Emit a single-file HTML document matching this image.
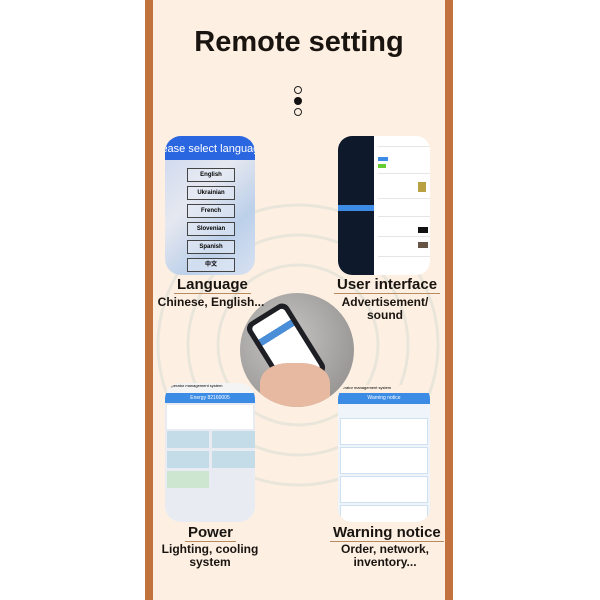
<!DOCTYPE html>
<html><head><style>
body{margin:0;width:600px;height:600px;background:#fff;position:relative;overflow:hidden;font-family:"Liberation Sans","Noto Sans CJK SC",sans-serif}
.a{position:absolute}
.t{position:absolute;text-align:center;color:#1a1410;font-weight:bold;white-space:nowrap}
.h{font-size:15px;border-bottom:1px solid #b88a60;padding:0 3px}
.s{font-size:12px;line-height:13px}
.btn{position:absolute;left:22px;width:46px;height:12px;border:1px solid #444;font-size:6px;font-weight:bold;text-align:center;line-height:12px;background:rgba(230,235,245,.5)}
.r{position:absolute;left:40px;width:52px;height:1px;background:#e6e6e6}
</style></head><body>
<div class="a" style="left:145px;top:0;width:308px;height:600px;background:#c2733d"></div>
<div class="a" style="left:153px;top:0;width:292px;height:600px;background:#fdf0e2"></div>
<svg class="a" style="left:153px;top:0" width="292" height="600">
<g fill="none" stroke="#d6dcd4" stroke-width="3" opacity=".5">
<circle cx="145" cy="345" r="80"/><circle cx="145" cy="345" r="110"/><circle cx="145" cy="345" r="140"/></g>
</svg>
<div class="t" style="left:153px;width:292px;top:26px;font-size:29px">Remote setting</div>
<div class="a" style="left:294px;top:86px;width:6px;height:6px;border:1px solid #222;border-radius:50%"></div>
<div class="a" style="left:294px;top:97px;width:8px;height:8px;background:#111;border-radius:50%"></div>
<div class="a" style="left:294px;top:108px;width:6px;height:6px;border:1px solid #222;border-radius:50%"></div>

<div class="a" style="left:165px;top:136px;width:90px;height:139px;border-radius:16px;overflow:hidden;background:linear-gradient(135deg,#c9d6ee,#e6e8f0 40%,#bcd0ea 70%,#d8e2f2)">
<div style="height:24px;background:#2a66e0;color:#fff;font-size:11px;line-height:26px;white-space:nowrap;margin-left:-6px">lease select language</div>
<div class="btn" style="top:32px">English</div>
<div class="btn" style="top:50px">Ukrainian</div>
<div class="btn" style="top:68px">French</div>
<div class="btn" style="top:86px">Slovenian</div>
<div class="btn" style="top:104px">Spanish</div>
<div class="btn" style="top:122px">中文</div>
</div>
<div class="a" style="left:338px;top:136px;width:92px;height:139px;border-radius:14px;overflow:hidden;background:#fff">
<div class="a" style="left:0;top:0;width:36px;height:139px;background:#0e1a2c"></div>
<div class="a" style="left:0;top:69px;width:36px;height:6px;background:#3c8ce6"></div>
<div class="a" style="left:40px;top:21px;width:10px;height:4px;background:#3c8ce6"></div>
<div class="a" style="left:40px;top:28px;width:8px;height:4px;background:#6c3"></div>
<div class="r" style="top:10px"></div><div class="r" style="top:37px"></div><div class="r" style="top:62px"></div><div class="r" style="top:80px"></div><div class="r" style="top:100px"></div><div class="r" style="top:120px"></div>
<div class="a" style="left:80px;top:46px;width:8px;height:10px;background:#b9a040"></div>
<div class="a" style="left:80px;top:91px;width:10px;height:6px;background:#111"></div>
<div class="a" style="left:80px;top:106px;width:10px;height:6px;background:#654"></div>
</div>
<div class="a" style="left:240px;top:293px;width:114px;height:114px;border-radius:50%;overflow:hidden;background:radial-gradient(circle at 40% 40%,#c8c6c4,#8a8886)">
<div class="a" style="left:22px;top:14px;width:48px;height:82px;background:#1d1f24;border-radius:8px;transform:rotate(-32deg)">
<div style="margin:5px;height:72px;background:#e8eef6;border-radius:4px;background-image:linear-gradient(#fff 0 20%,#4a8ed8 20% 30%,#fff 30%)"></div></div>
<div class="a" style="left:20px;top:70px;width:70px;height:50px;background:#e6b9a0;border-radius:40% 40% 0 0"></div>
</div>
<div class="a" style="left:165px;top:383px;width:90px;height:139px;border-radius:16px;overflow:hidden;background:#e8ecf2">
<div style="height:10px;background:#f4f4f4;font-size:4px">× Operator management system</div>
<div style="height:10px;background:#3c8ce6;color:#fff;font-size:5px;text-align:center;line-height:10px">Energy 82160005</div>
<div style="height:24px;background:#fff;margin:2px"></div>
<div class="a" style="left:2px;top:48px;width:42px;height:17px;background:#c4dbe8"></div>
<div class="a" style="left:47px;top:48px;width:43px;height:17px;background:#c4dbe8"></div>
<div class="a" style="left:2px;top:68px;width:42px;height:17px;background:#c4dbe8"></div>
<div class="a" style="left:47px;top:68px;width:43px;height:17px;background:#c4dbe8"></div>
<div class="a" style="left:2px;top:88px;width:42px;height:17px;background:#cde6cf"></div>
</div>
<div class="a" style="left:338px;top:385px;width:92px;height:137px;border-radius:14px;overflow:hidden;background:#eef4fa">
<div style="height:8px;background:#fdf0e2;font-size:4px">operator management system</div>
<div style="height:11px;background:#3c8ce6;color:#fff;font-size:5px;text-align:center;line-height:11px">Warning notice</div>
<div style="height:12px"></div>
<div style="height:25px;background:#fff;margin:2px;border:1px solid #cfe0f0"></div>
<div style="height:25px;background:#fff;margin:2px;border:1px solid #cfe0f0"></div>
<div style="height:25px;background:#fff;margin:2px;border:1px solid #cfe0f0"></div>
<div style="height:25px;background:#fff;margin:2px;border:1px solid #cfe0f0"></div>
</div>

<div class="t h" style="left:174px;top:276px">Language</div>
<div class="t s" style="left:156px;width:110px;top:296px">Chinese, English...</div>
<div class="t h" style="left:334px;top:276px">User interface</div>
<div class="t s" style="left:330px;width:110px;top:296px">Advertisement/<br>sound</div>
<div class="t h" style="left:185px;top:524px">Power</div>
<div class="t s" style="left:155px;width:110px;top:543px">Lighting, cooling<br>system</div>
<div class="t h" style="left:330px;top:524px">Warning notice</div>
<div class="t s" style="left:330px;width:110px;top:543px">Order, network,<br>inventory...</div>
</body></html>
